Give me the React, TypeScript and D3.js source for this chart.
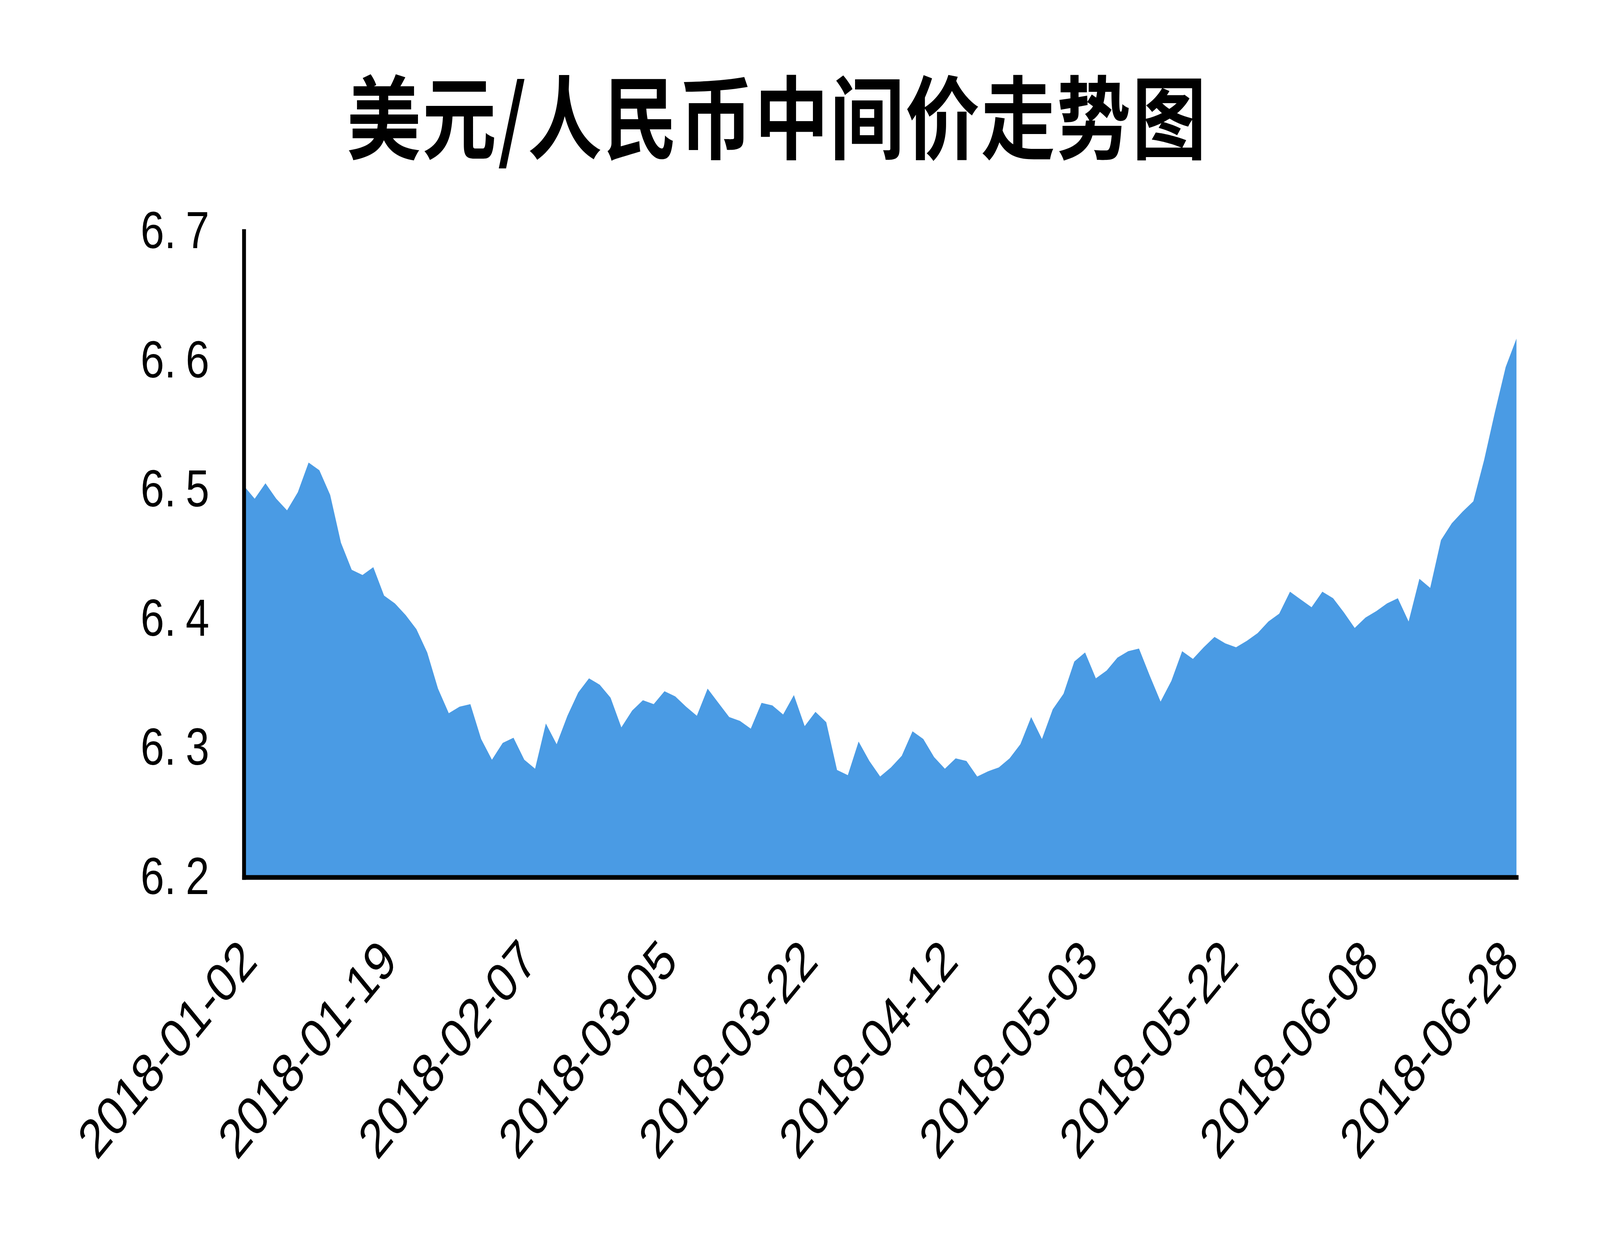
import React, { useEffect, useRef } from "react";
import * as d3 from "d3";

const title = "美元/人民币中间价走势图";

// trading days, 2018-01-02 .. 2018-06-29
const dates = [
  "2018-01-02", "2018-01-03", "2018-01-04", "2018-01-05", "2018-01-08",
  "2018-01-09", "2018-01-10", "2018-01-11", "2018-01-12", "2018-01-15",
  "2018-01-16", "2018-01-17", "2018-01-18", "2018-01-19", "2018-01-22",
  "2018-01-23", "2018-01-24", "2018-01-25", "2018-01-26", "2018-01-29",
  "2018-01-30", "2018-01-31", "2018-02-01", "2018-02-02", "2018-02-05",
  "2018-02-06", "2018-02-07", "2018-02-08", "2018-02-09", "2018-02-12",
  "2018-02-13", "2018-02-14", "2018-02-22", "2018-02-23", "2018-02-26",
  "2018-02-27", "2018-02-28", "2018-03-01", "2018-03-02", "2018-03-05",
  "2018-03-06", "2018-03-07", "2018-03-08", "2018-03-09", "2018-03-12",
  "2018-03-13", "2018-03-14", "2018-03-15", "2018-03-16", "2018-03-19",
  "2018-03-20", "2018-03-21", "2018-03-22", "2018-03-23", "2018-03-26",
  "2018-03-27", "2018-03-28", "2018-03-29", "2018-03-30", "2018-04-02",
  "2018-04-03", "2018-04-04", "2018-04-09", "2018-04-10", "2018-04-11",
  "2018-04-12", "2018-04-13", "2018-04-16", "2018-04-17", "2018-04-18",
  "2018-04-19", "2018-04-20", "2018-04-23", "2018-04-24", "2018-04-25",
  "2018-04-26", "2018-04-27", "2018-05-02", "2018-05-03", "2018-05-04",
  "2018-05-07", "2018-05-08", "2018-05-09", "2018-05-10", "2018-05-11",
  "2018-05-14", "2018-05-15", "2018-05-16", "2018-05-17", "2018-05-18",
  "2018-05-21", "2018-05-22", "2018-05-23", "2018-05-24", "2018-05-25",
  "2018-05-28", "2018-05-29", "2018-05-30", "2018-05-31", "2018-06-01",
  "2018-06-04", "2018-06-05", "2018-06-06", "2018-06-07", "2018-06-08",
  "2018-06-11", "2018-06-12", "2018-06-13", "2018-06-14", "2018-06-15",
  "2018-06-19", "2018-06-20", "2018-06-21", "2018-06-22", "2018-06-25",
  "2018-06-26", "2018-06-27", "2018-06-28", "2018-06-29",
];

// USD/CNY central parity
const rates = [
  6.503, 6.493, 6.505, 6.493, 6.484, 6.498, 6.521, 6.515, 6.496, 6.459,
  6.438, 6.434, 6.44, 6.418, 6.412, 6.403, 6.392, 6.374, 6.346, 6.327,
  6.332, 6.334, 6.307, 6.291, 6.304, 6.308, 6.291, 6.284, 6.319, 6.303,
  6.325, 6.343, 6.354, 6.349, 6.339, 6.316, 6.329, 6.337, 6.334, 6.344,
  6.34, 6.332, 6.325, 6.346, 6.335, 6.324, 6.321, 6.315, 6.335, 6.333,
  6.326, 6.341, 6.317, 6.328, 6.32, 6.283, 6.279, 6.305, 6.29, 6.278,
  6.285, 6.294, 6.313, 6.307, 6.293, 6.284, 6.292, 6.29, 6.278, 6.282,
  6.285, 6.292, 6.303, 6.324, 6.307, 6.33, 6.342, 6.367, 6.374, 6.354,
  6.36, 6.37, 6.375, 6.377, 6.356, 6.336, 6.352, 6.375, 6.369, 6.378,
  6.386, 6.381, 6.378, 6.383, 6.389, 6.398, 6.404, 6.421, 6.415, 6.409,
  6.421, 6.416, 6.405, 6.393, 6.401, 6.406, 6.412, 6.416, 6.398, 6.431,
  6.424, 6.461, 6.474, 6.483, 6.491, 6.523, 6.56, 6.595, 6.617,
];

const yTicks = [6.2, 6.3, 6.4, 6.5, 6.6, 6.7];

const xTickDates = [
  "2018-01-02", "2018-01-19", "2018-02-07", "2018-03-05", "2018-03-22",
  "2018-04-12", "2018-05-03", "2018-05-22", "2018-06-08", "2018-06-28",
];

const width = 4999;
const height = 3158;

export default function App() {
  const svgRef = useRef(null);

  useEffect(() => {
    const svg = d3.select(svgRef.current);
    svg.selectAll("*").remove();

    const x = d3.scalePoint<string>().domain(dates).range([762, 4738]);
    const y = d3.scaleLinear().domain([6.2, 6.7]).range([2245, 592]);

    svg
      .append("rect")
      .attr("width", width)
      .attr("height", height)
      .attr("fill", "#ffffff");

    // title
    svg
      .append("text")
      .attr("x", 2428)
      .attr("y", 288)
      .attr("text-anchor", "middle")
      .attr("dominant-baseline", "central")
      .attr("font-family", '"Noto Sans CJK SC", sans-serif')
      .attr("font-weight", 700)
      .attr("font-size", 232)
      .attr("letter-spacing", 4)
      .attr("fill", "#000")
      .text(title);

    // area
    const area = d3
      .area<number>()
      .x((d, i) => x(dates[i]) as number)
      .y0(y(6.2))
      .y1((d) => y(d));

    svg
      .append("path")
      .datum(rates)
      .attr("fill", "#4a9be4")
      .attr("d", area);

    // y axis
    const yAxis = svg
      .append("g")
      .attr("transform", `translate(${x(dates[0])},0)`)
      .call(
        d3
          .axisLeft(y)
          .tickValues(yTicks)
          .tickSize(0)
          .tickSizeOuter(0)
          .tickPadding(108),
      );

    yAxis
      .select(".domain")
      .attr("stroke", "#000")
      .attr("stroke-width", 12)
      .attr("stroke-linecap", "square");

    yAxis
      .selectAll(".tick text")
      .attr("font-family", '"Liberation Sans", Arial, sans-serif')
      .attr("font-size", 133)
      .attr("fill", "#000")
      .each(function (d: any) {
        const s = d3.format(".1f")(d);
        const t = d3.select(this);
        t.text(null);
        t.append("tspan").text(s.slice(0, 2));
        t.append("tspan").attr("dx", 30).text(s.slice(2));
      });

    // x axis
    const xAxis = svg
      .append("g")
      .attr("transform", `translate(0,${y(6.2)})`)
      .call(
        d3
          .axisBottom(x)
          .tickValues(xTickDates)
          .tickSize(0)
          .tickSizeOuter(0),
      );

    xAxis
      .select(".domain")
      .attr("stroke", "#000")
      .attr("stroke-width", 12)
      .attr("stroke-linecap", "square");

    xAxis
      .selectAll(".tick text")
      .attr("font-family", '"Liberation Sans", Arial, sans-serif')
      .attr("font-size", 140)
      .attr("fill", "#000")
      .attr("text-anchor", "end")
      .attr("x", 0)
      .attr("y", 0)
      .attr("dy", "0.35em")
      .attr("transform", "translate(12,186) rotate(-45)");
  }, []);

  // the browser caps the window width, so the drawing is stretched to fill it
  return (
    <svg
      ref={svgRef}
      viewBox={`0 0 ${width} ${height}`}
      preserveAspectRatio="none"
      style={{
        position: "absolute",
        left: 0,
        top: 0,
        width: "100vw",
        height: "100vh",
        display: "block",
      }}
    ></svg>
  );
}
